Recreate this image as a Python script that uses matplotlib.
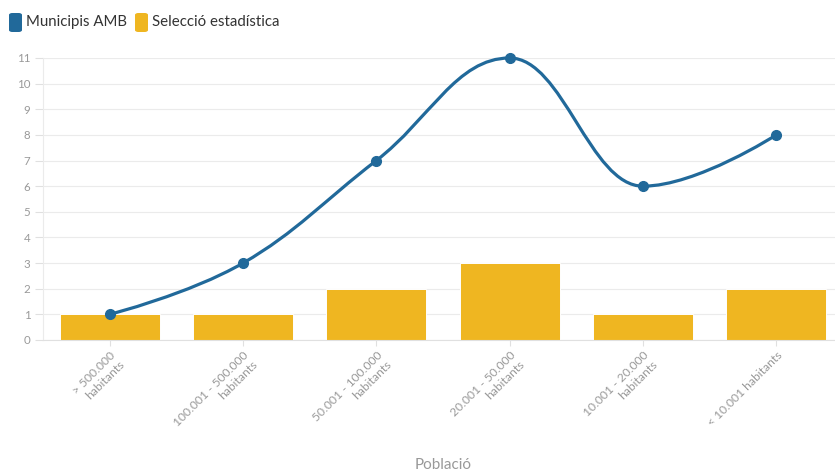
import numpy as np
import matplotlib
matplotlib.use("Agg")
import matplotlib.pyplot as plt
from matplotlib.path import Path
from matplotlib.patches import PathPatch, FancyBboxPatch

plt.rcParams['font.family'] = ['Lato', 'DejaVu Sans']

categories = ["> 500.000\nhabitants", "100.001 - 500.000\nhabitants",
              "50.001 - 100.000\nhabitants", "20.001 - 50.000\nhabitants",
              "10.001 - 20.000\nhabitants", "< 10.001 habitants"]
municipis_amb = [1, 3, 7, 11, 6, 8]
seleccio = [1, 1, 2, 3, 1, 2]
series_names = ["Municipis AMB", "Selecció estadística"]
x_title = "Població"

blue = "#21699a"
yellow = "#efb621"
grey_text = "#999999"


def spline_path(xs, ys, smoothing=1.5):
    # highcharts-style spline control points
    n = len(xs)
    conts = []
    for i in range(n):
        x, y = xs[i], ys[i]
        if i == 0 or i == n - 1:
            conts.append((x, y, x, y))
            continue
        lx, ly = xs[i - 1], ys[i - 1]
        nx, ny = xs[i + 1], ys[i + 1]
        d = smoothing + 1
        lcx = (smoothing * x + lx) / d
        lcy = (smoothing * y + ly) / d
        rcx = (smoothing * x + nx) / d
        rcy = (smoothing * y + ny) / d
        corr = 0
        if rcx != lcx:
            corr = (rcy - lcy) * (rcx - x) / (rcx - lcx) + y - rcy
        lcy += corr
        rcy += corr
        if lcy > ly and lcy > y:
            lcy = max(ly, y)
            rcy = 2 * y - lcy
        elif lcy < ly and lcy < y:
            lcy = min(ly, y)
            rcy = 2 * y - lcy
        if rcy > ny and rcy > y:
            rcy = max(ny, y)
            lcy = 2 * y - rcy
        elif rcy < ny and rcy < y:
            rcy = min(ny, y)
            lcy = 2 * y - rcy
        conts.append((lcx, lcy, rcx, rcy))
    verts = [(xs[0], ys[0])]
    codes = [Path.MOVETO]
    for i in range(1, n):
        verts += [(conts[i - 1][2], conts[i - 1][3]), (conts[i][0], conts[i][1]), (xs[i], ys[i])]
        codes += [Path.CURVE4] * 3
    return Path(verts, codes)


fig = plt.figure(figsize=(8.35, 4.72), dpi=100)
ax = fig.add_axes([43 / 835, 1 - 340 / 472, 800 / 835, 282 / 472])

x = np.arange(len(categories))
ax.bar(x, seleccio, width=0.75, color=yellow, edgecolor="white", linewidth=0.7, zorder=2)

path = spline_path(list(x), municipis_amb)
ax.add_patch(PathPatch(path, facecolor="none", edgecolor=blue, lw=2.3, zorder=3,
                       capstyle="round", joinstyle="round", clip_on=False))
ax.plot(x, municipis_amb, "o", color=blue, markersize=7, zorder=4, clip_on=False)

ax.set_xlim(-0.5, len(categories) - 0.5)
ax.set_ylim(0, 11)
ax.set_yticks(range(0, 12))
ax.grid(axis="y", color="#ebebeb", lw=0.8, zorder=0)
ax.set_axisbelow(True)
for s in ["top", "right"]:
    ax.spines[s].set_visible(False)
ax.spines["left"].set_color("#ebebeb")
ax.spines["bottom"].set_color("#e0e0e0")
ax.spines["left"].set_linewidth(0.8)
ax.spines["bottom"].set_linewidth(0.8)

ax.tick_params(axis="y", colors="#e0e0e0", labelcolor=grey_text, labelsize=8.3,
               length=6, width=0.8, pad=3)
ax.tick_params(axis="x", colors="#e0e0e0", labelcolor=grey_text, labelsize=8.7,
               length=4, width=0.8, pad=3)
ax.set_xticks(x)
ax.set_xticklabels(categories, rotation=45, ha="right", va="top",
                   rotation_mode="anchor", multialignment="right")

fig.text(443 / 835, 1 - 465 / 472, x_title, ha="center", va="center",
         fontsize=11, color=grey_text)

# legend drawn by hand
legend_items = [(9, 26, blue, series_names[0]), (135, 152, yellow, series_names[1])]
for bx, tx, col, label in legend_items:
    fig.patches.append(FancyBboxPatch((bx / 835, 1 - 32 / 472), 13 / 835, 19 / 472,
                                      boxstyle="round,pad=0,rounding_size=0.004",
                                      transform=fig.transFigure, facecolor=col,
                                      edgecolor="none"))
    fig.text(tx / 835, 1 - 22 / 472, label, ha="left", va="center",
             fontsize=10.8, color="#333333")

fig.savefig("out.png", dpi=100)
